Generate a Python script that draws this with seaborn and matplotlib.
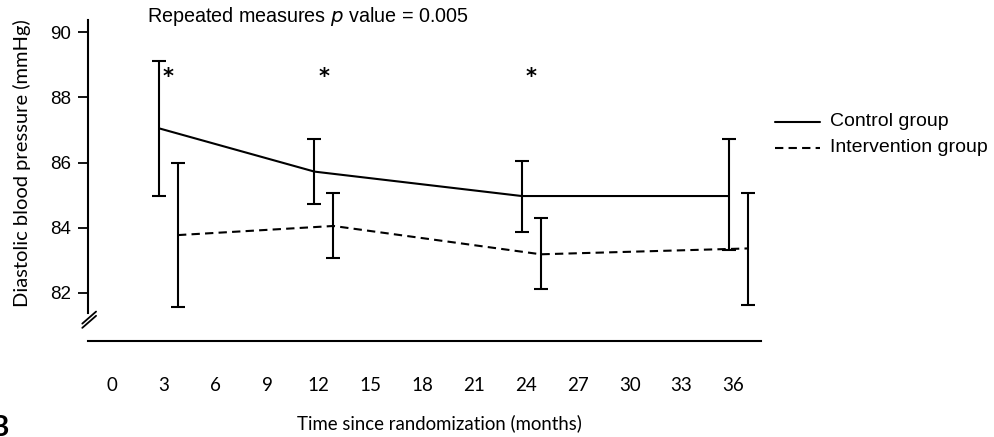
import matplotlib
matplotlib.use("Agg")
import matplotlib.pyplot as plt
import matplotlib.transforms as mtransforms
import seaborn as sns
import pandas as pd
import numpy as np

# ---- data ----
months = [3, 12, 24, 36]
control_mean = [87.05, 85.72, 84.97, 84.97]
control_low = [84.98, 84.72, 83.86, 83.30]
control_high = [89.11, 86.72, 86.05, 86.72]
interv_mean = [83.77, 84.05, 83.18, 83.36]
interv_low = [81.55, 83.06, 82.10, 81.63]
interv_high = [86.00, 85.05, 84.28, 85.05]
sig_months = [3, 12, 24]
x_ticks = list(range(0, 37, 3))
y_ticks = [82, 84, 86, 88, 90]

sns.set_theme(style="white")
plt.rcParams["font.family"] = ["Liberation Sans", "DejaVu Sans"]

W, H = 994, 437
fig = plt.figure(figsize=(W / 100, H / 100), dpi=100)
left_px, right_px, top_px, bot_px = 88, 761, 20, 341
ax = fig.add_axes([left_px / W, 1 - bot_px / H, (right_px - left_px) / W, (bot_px - top_px) / H])

ctrl_off, int_off = -0.25, 0.85
df = pd.DataFrame({
    "month": [m + ctrl_off for m in months] + [m + int_off for m in months],
    "dbp": control_mean + interv_mean,
    "group": ["Control group"] * 4 + ["Intervention group"] * 4,
})

sns.lineplot(data=df, x="month", y="dbp", style="group",
             dashes={"Control group": "", "Intervention group": (4, 2.5)},
             color="black", linewidth=1.5, ax=ax, legend=False, zorder=3)
for ln in ax.get_lines():
    ln.set_solid_capstyle("butt")

cx = np.array(months) + ctrl_off
ix = np.array(months) + int_off
ax.errorbar(cx, control_mean,
            yerr=[np.array(control_mean) - np.array(control_low), np.array(control_high) - np.array(control_mean)],
            fmt="none", ecolor="black", elinewidth=1.5, capsize=5, capthick=1.5, zorder=4)
ax.errorbar(ix, interv_mean,
            yerr=[np.array(interv_mean) - np.array(interv_low), np.array(interv_high) - np.array(interv_mean)],
            fmt="none", ecolor="black", elinewidth=1.5, capsize=5, capthick=1.5, zorder=4)

# significance stars
for m in sig_months:
    ax.text(m + 0.3, 88.62, "*", ha="center", va="center", fontsize=15, color="black",
            family="DejaVu Sans", fontweight="bold")

ylo = 90 - (bot_px - 32.3) / 32.55
yhi = 90 - (top_px - 32.3) / 32.55
ax.set_ylim(ylo, yhi)
ax.set_xlim(-1.36, 37.6)

ax.set_yticks(y_ticks)
ax.set_yticklabels([str(v) for v in y_ticks], fontsize=13.5)
ax.set_xticks(x_ticks)
ax.set_xticklabels([str(v) for v in x_ticks], fontsize=13.5, family=["Lato", "DejaVu Sans"])
ax.tick_params(axis="y", direction="out", length=7.5, width=1.3, pad=5, left=True, colors="black")
ax.tick_params(axis="x", length=0, pad=26, colors="black")

for s in ["top", "right"]:
    ax.spines[s].set_visible(False)
ax.spines["left"].set_bounds(81.38, yhi)
ax.spines["left"].set_linewidth(1.5)
ax.spines["left"].set_color("black")
ax.spines["bottom"].set_linewidth(1.5)
ax.spines["bottom"].set_color("black")

# axis break marks
trans = mtransforms.blended_transform_factory(ax.transAxes, ax.transData)
for dy in (0.0, -0.13):
    ax.plot([-0.0085, 0.012], [81.05 + dy, 81.42 + dy], color="black", lw=1.3,
            transform=trans, clip_on=False)

ax.set_ylabel("Diastolic blood pressure (mmHg)", fontsize=14.5, family=["Lato", "DejaVu Sans"],
              color="black", va="center", ha="center")
ax.yaxis.set_label_coords(-(left_px - 22) / (right_px - left_px), 1 - (163 - top_px) / (bot_px - top_px))
ax.set_xlabel("Time since randomization (months)", fontsize=13.4, family=["Lato", "DejaVu Sans"],
              color="black", va="center", ha="center")
ax.xaxis.set_label_coords((439 - left_px) / (right_px - left_px), -(423 - bot_px) / (bot_px - top_px))

# title
fig.text(147 / W, 1 - 17 / H, r"Repeated measures $\it{p}$ value = 0.005", fontsize=14.2,
         ha="left", va="center", color="black")

# legend
lx0, lx1, tx = 775 / W, 820 / W, 830 / W
for yy, label, ls in [(122, "Control group", "-"), (148, "Intervention group", (0, (4, 2.5)))]:
    fig.add_artist(plt.Line2D([lx0, lx1], [1 - yy / H, 1 - yy / H], color="black", lw=1.5,
                              linestyle=ls, transform=fig.transFigure))
    fig.text(tx, 1 - yy / H, label, fontsize=14, ha="left", va="center", color="black")

# panel letter
fig.text(9 / W, 1 - 428 / H, "B", fontsize=20, fontweight="bold", ha="right", va="center",
         color="black", family=["Lato", "DejaVu Sans"])

fig.savefig("out.png", dpi=100)
